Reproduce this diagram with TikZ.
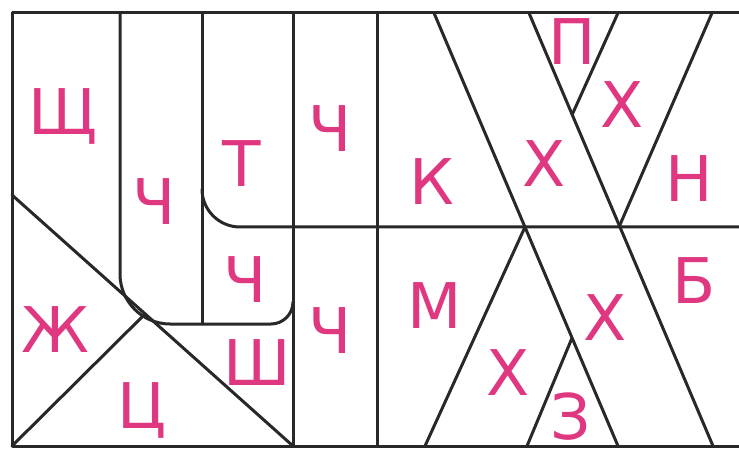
\documentclass[tikz,border=0pt]{standalone}
\usepackage{fontspec}
\setmainfont{DejaVu Sans}
\definecolor{lettercol}{RGB}{224,56,128}
\definecolor{linecol}{RGB}{40,40,40}
\tikzset{
  edgeline/.style={draw=linecol, line width=3pt, line cap=round, line join=round},
  letter/.style={text=lettercol, anchor=base, inner sep=0pt, font=\fontsize{63}{63}\selectfont}
}
\begin{document}
\begin{tikzpicture}[x=1pt,y=-1pt]
\useasboundingbox[fill=white] (0,0) rectangle (739,449);
% frame
\draw[edgeline] (12,13) rectangle (760,446);
% left area
\draw[edgeline] (120,13) -- (120,274) .. controls (120,301.6) and (142.4,324) .. (170,324)
   -- (271,324) .. controls (283.1,324) and (293,314.1) .. (293,302);
\draw[edgeline] (293,13) -- (293,446);
\draw[edgeline] (202,13) -- (202,324);
\draw[edgeline] (202,189) .. controls (202,210) and (219,227) .. (240,227) -- (760,227);
\draw[edgeline] (377,13) -- (377,446);
\draw[edgeline] (12,195) -- (293,446);
\draw[edgeline] (12,446) -- (145,314);
% right area
\draw[edgeline] (434,13) -- (618,446);
\draw[edgeline] (529,13) -- (713,446);
\draw[edgeline] (712,13) -- (619,227);
\draw[edgeline] (525,227) -- (425,446);
\draw[edgeline] (618,13) -- (572,115);
\draw[edgeline] (572,338) -- (527,446);
% letters
\node[letter] (shch) at (63,135) {Щ};
\node[letter] (ch1) at (154,225) {Ч};
\node[letter] (te) at (242,187) {Т};
\node[letter] (ch2) at (245,302) {Ч};
\node[letter] (sha) at (257,385) {Ш};
\node[letter] (zhe) at (55,352) {Ж};
\node[letter] (tse) at (142,428) {Ц};
\node[letter] (ch3) at (330,152) {Ч};
\node[letter] (ch4) at (330,353) {Ч};
\node[letter] (ka) at (432,205) {К};
\node[letter] (em) at (435,328) {М};
\node[letter] (kha1) at (508,395) {Х};
\node[letter] (kha2) at (544,187) {Х};
\node[letter] (pe) at (572,65) {П};
\node[letter] (kha3) at (622,128) {Х};
\node[letter] (en) at (689,202) {Н};
\node[letter] (be) at (694,303) {Б};
\node[letter] (kha4) at (605,340) {Х};
\node[letter] (ze) at (571,439) {З};
\end{tikzpicture}
\end{document}
